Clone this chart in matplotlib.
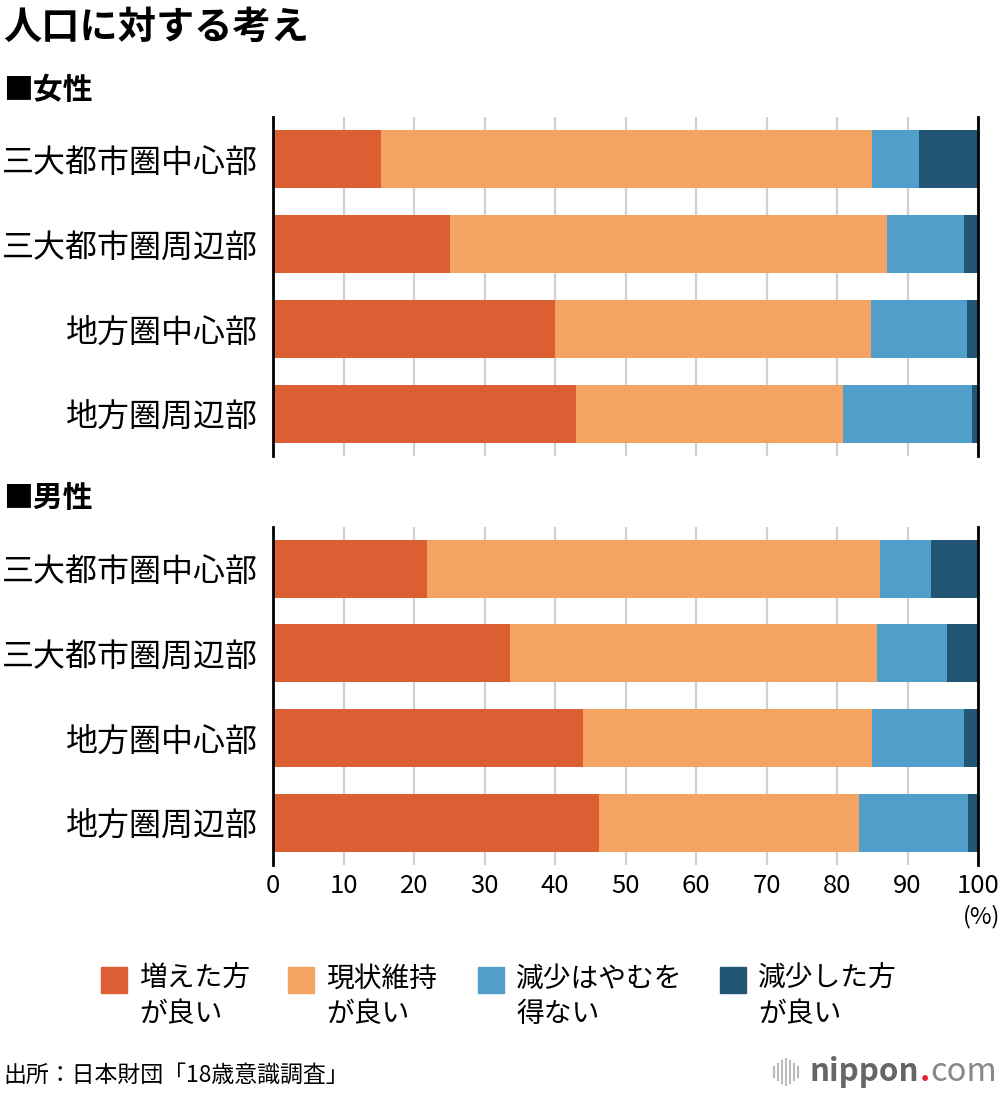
import numpy as np
import matplotlib
matplotlib.use("Agg")
import matplotlib.pyplot as plt
from matplotlib.patches import Rectangle

plt.rcParams['font.family'] = ['Noto Sans CJK JP', 'DejaVu Sans']

# data (percent)
regions = ["三大都市圏中心部", "三大都市圏周辺部", "地方圏中心部", "地方圏周辺部"]
series_names = ["増えた方\nが良い", "現状維持\nが良い", "減少はやむを\n得ない", "減少した方\nが良い"]
colors = ["#DB5F33", "#F3A463", "#529ECB", "#235675"]

female_increase = [15.3, 25.1, 40.0, 43.0]
female_keep = [69.7, 62.0, 44.8, 37.9]
female_unavoidable = [6.6, 10.9, 13.6, 18.2]
female_decrease = [8.4, 2.0, 1.6, 0.9]

male_increase = [21.8, 33.6, 44.0, 46.2]
male_keep = [64.3, 52.1, 41.0, 36.9]
male_unavoidable = [7.2, 9.9, 13.0, 15.5]
male_decrease = [6.7, 4.4, 2.0, 1.4]

female = [female_increase, female_keep, female_unavoidable, female_decrease]
male = [male_increase, male_keep, male_unavoidable, male_decrease]

fig = plt.figure(figsize=(10, 10.94), dpi=100)
W, H = 1000, 1094


def draw_panel(ax, data, show_ticks):
    y = np.arange(len(regions))
    left = np.zeros(len(regions))
    for vals, c in zip(data, colors):
        ax.barh(y, vals, left=left, height=0.685, color=c, zorder=2)
        left += np.array(vals)
    ax.set_xlim(0, 100)
    ax.set_ylim(3.5, -0.5)
    ax.set_yticks(y)
    ax.set_yticklabels(regions, fontsize=23)
    ax.tick_params(axis='y', length=0, pad=11)
    ax.set_xticks(np.arange(0, 101, 10))
    ax.grid(axis='x', color='#D0D0D0', linewidth=1.6, zorder=0)
    ax.set_axisbelow(True)
    for s in ['top', 'bottom']:
        ax.spines[s].set_visible(False)
    for s in ['left', 'right']:
        ax.spines[s].set_color('black')
        ax.spines[s].set_linewidth(2)
        ax.spines[s].set_zorder(5)
    if show_ticks:
        ax.tick_params(axis='x', length=0, pad=6, labelsize=18.5)
    else:
        ax.tick_params(axis='x', length=0, labelbottom=False)


ax1 = fig.add_axes([273 / W, 1 - 456 / H, 705 / W, 339 / H])
draw_panel(ax1, female, False)
ax2 = fig.add_axes([273 / W, 1 - 865 / H, 705 / W, 338.5 / H])
draw_panel(ax2, male, True)

fig.text(3 / W, 1 - 27 / H, "人口に対する考え", fontsize=27.5, fontweight='bold', va='center', ha='left')
fig.text(3 / W, 1 - 90 / H, "■女性", fontsize=21.5, fontweight='bold', va='center', ha='left')
fig.text(3 / W, 1 - 498 / H, "■男性", fontsize=21.5, fontweight='bold', va='center', ha='left')
fig.text(1000 / W, 1 - 917 / H, "(%)", fontsize=17, va='center', ha='right')

# legend
leg_x = [101, 288, 478, 720]
for x, name, c in zip(leg_x, series_names, colors):
    fig.add_artist(Rectangle((x / W, 1 - 993 / H), 26 / W, 26 / H, color=c, transform=fig.transFigure))
    fig.text((x + 38) / W, 1 - 964 / H, name, fontsize=20, va='top', ha='left', linespacing=1.2)

fig.text(3 / W, 1 - 1075 / H, "出所：日本財団「18歳意識調査」", fontsize=16.5, va='center', ha='left')

# nippon.com logo
bars_h = [10, 16, 22, 26, 22, 16, 10]
for i, h in enumerate(bars_h):
    xx = (774 + i * 4) / W
    fig.add_artist(plt.Line2D([xx, xx], [1 - (1072 + h / 2) / H, 1 - (1072 - h / 2) / H],
                              color='#BBBBBB', linewidth=1.5, transform=fig.transFigure))
t1 = fig.text(809 / W, 1 - 1072 / H, "nippon", fontsize=22.5, fontweight='bold', color='#666666', va='center', ha='left')
fig.canvas.draw()
bb = t1.get_window_extent()
t2 = fig.text(bb.x1 / W + 1 / W, 1 - 1072 / H, ".", fontsize=22.5, fontweight='bold', color='#E8202A', va='center', ha='left')
bb2 = t2.get_window_extent()
fig.text(bb2.x1 / W, 1 - 1072 / H, "com", fontsize=23.5, color='#888888', va='center', ha='left')

fig.savefig("out.png", dpi=100)
